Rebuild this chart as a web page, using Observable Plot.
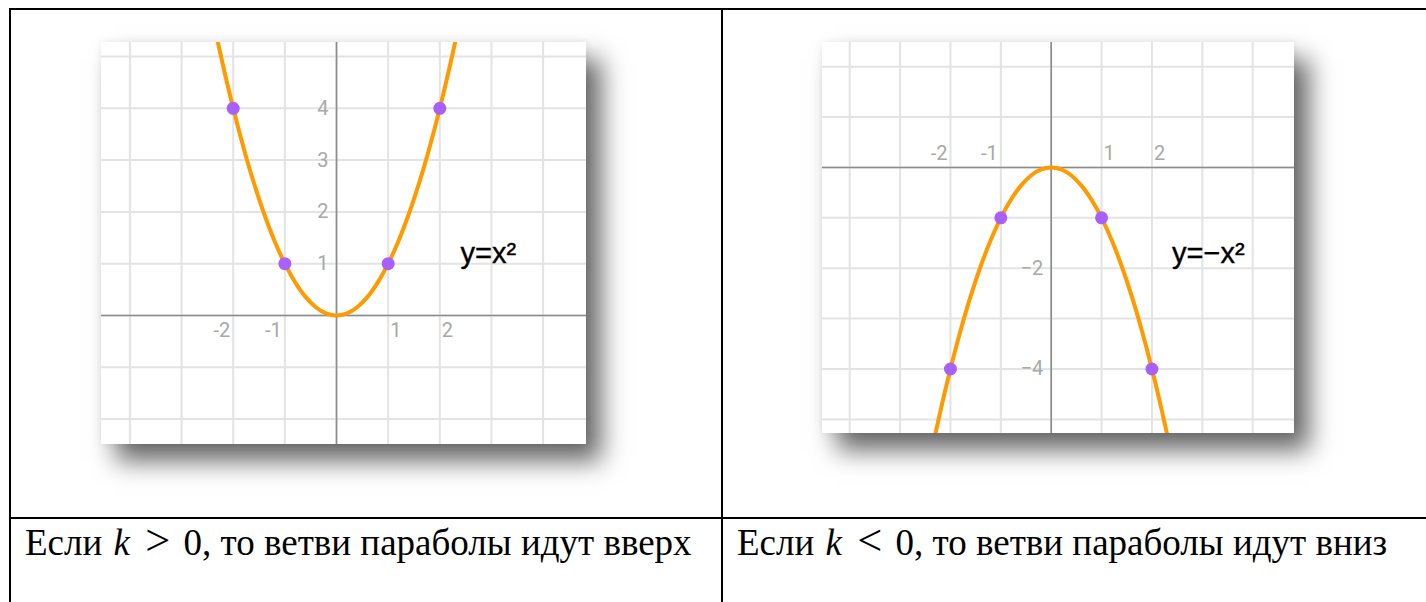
<!DOCTYPE html>
<html>
<head>
<meta charset="utf-8">
<script src="https://cdn.jsdelivr.net/npm/d3@7"></script>
<script src="https://cdn.jsdelivr.net/npm/@observablehq/plot@0.6"></script>
<style>
  html, body { margin: 0; padding: 0; background: #fff; width: 1426px; height: 602px; overflow: hidden; }
  .line { position: absolute; background: #000; }
  .chart { position: absolute; }
  .chart svg { display: block; box-shadow: 15px 17px 24px rgba(0,0,0,0.6), 0 0 8px rgba(0,0,0,0.07); }
  .cap { position: absolute; font-family: "Liberation Serif", "Times New Roman", serif; font-size: 37px; line-height: 37px; color: #000; white-space: nowrap; }
  .cap i { font-style: italic; margin-left: 2px; margin-right: 2px; }
  .cap .rel { display: inline-block; font-size: 1.2em; margin: 0 4px; line-height: 37px; }
</style>
</head>
<body>
<div class="line" style="left:9px; top:8px; width:1417px; height:2px;"></div>
<div class="line" style="left:9px; top:8px; width:2px; height:594px;"></div>
<div class="line" style="left:721px; top:8px; width:2px; height:594px;"></div>
<div class="line" style="left:9px; top:517px; width:1417px; height:2px;"></div>
<div id="left" class="chart" style="left:101px; top:42px;"></div>
<div id="right" class="chart" style="left:822px; top:42px;"></div>
<div class="cap" style="left:25px; top:522px;">Если <i>k</i> <span class="rel">&gt;</span> 0, то ветви параболы идут вверх</div>
<div class="cap" style="left:737px; top:522px;">Если <i>k</i> <span class="rel">&lt;</span> 0, то ветви параболы идут вниз</div>
<script>
// grid positions
const gridX = [-4, -3, -2, -1, 0, 1, 2, 3, 4];
const gridYUp = [-2, -1, 0, 1, 2, 3, 4, 5];
const gridYDown = [-5, -4, -3, -2, -1, 0, 1, 2];

// curve samples
const curveX = [-2.6, -2.4, -2.2, -2, -1.8, -1.6, -1.4, -1.2, -1, -0.8, -0.6, -0.4, -0.2, 0, 0.2, 0.4, 0.6, 0.8, 1, 1.2, 1.4, 1.6, 1.8, 2, 2.2, 2.4, 2.6];
const curveUpY = [6.76, 5.76, 4.84, 4, 3.24, 2.56, 1.96, 1.44, 1, 0.64, 0.36, 0.16, 0.04, 0, 0.04, 0.16, 0.36, 0.64, 1, 1.44, 1.96, 2.56, 3.24, 4, 4.84, 5.76, 6.76];
const curveDownY = [-6.76, -5.76, -4.84, -4, -3.24, -2.56, -1.96, -1.44, -1, -0.64, -0.36, -0.16, -0.04, 0, -0.04, -0.16, -0.36, -0.64, -1, -1.44, -1.96, -2.56, -3.24, -4, -4.84, -5.76, -6.76];

// marked points
const pointX = [-2, -1, 1, 2];
const pointUpY = [4, 1, 1, 4];
const pointDownY = [-4, -1, -1, -4];

// tick labels
const xTickNeg = [-2, -1];
const xTickNegLabels = ["-2", "-1"];
const xTickPos = [1, 2];
const xTickPosLabels = ["1", "2"];
const yTickUp = [1, 2, 3, 4];
const yTickUpLabels = ["1", "2", "3", "4"];
const yTickDown = [-2, -4];
const yTickDownLabels = ["−2", "−4"];

const formulaUp = ["y=x²"];
const formulaDown = ["y=−x²"];

const ORANGE = "#ff9a00";
const PURPLE = "#a960f8";
const GRID = "#e3e3e3";
const AXIS = "#8c8c8c";
const LABEL = "#a8a8a8";
const tickFont = "Roboto, 'Noto Sans', sans-serif";

function make({width, height, xDomain, yDomain, gridY, curveY, pointY, yTicks, yLabels, xDy, formula, formulaY}) {
  const curve = curveX.map((x, i) => ({x, y: curveY[i]}));
  const pts = pointX.map((x, i) => ({x, y: pointY[i]}));
  return Plot.plot({
    width, height,
    margin: 0,
    x: {domain: xDomain, axis: null},
    y: {domain: yDomain, axis: null},
    style: {background: "#fff", overflow: "hidden"},
    marks: [
      Plot.ruleX(gridX, {stroke: GRID, strokeWidth: 2}),
      Plot.ruleY(gridY, {stroke: GRID, strokeWidth: 2}),
      Plot.ruleX([0], {stroke: AXIS, strokeWidth: 1.6}),
      Plot.ruleY([0], {stroke: AXIS, strokeWidth: 1.6}),
      Plot.text(xTickNegLabels, {x: (d, i) => xTickNeg[i], y: 0, text: d => d, textAnchor: "end", lineAnchor: "middle", dx: -3, dy: xDy, fill: LABEL, fontSize: 20, fontFamily: tickFont}),
      Plot.text(xTickPosLabels, {x: (d, i) => xTickPos[i], y: 0, text: d => d, textAnchor: "start", lineAnchor: "middle", dx: 2, dy: xDy, fill: LABEL, fontSize: 20, fontFamily: tickFont}),
      Plot.text(yLabels, {x: 0, y: (d, i) => yTicks[i], text: d => d, textAnchor: "end", lineAnchor: "middle", dx: -8, fill: LABEL, fontSize: 20, fontFamily: tickFont}),
      Plot.line(curve, {x: "x", y: "y", stroke: ORANGE, strokeWidth: 4, curve: "catmull-rom", clip: true}),
      Plot.dot(pts, {x: "x", y: "y", r: 6.5, fill: PURPLE, stroke: "none"}),
      Plot.text(formula, {x: 2.4, y: formulaY, text: d => d, textAnchor: "start", lineAnchor: "middle", fill: "#000", fontSize: 29, fontFamily: "'Liberation Sans', Arial, sans-serif", stroke: "#000", strokeWidth: 0.4})
    ]
  });
}

document.getElementById("left").appendChild(make({
  width: 485, height: 402,
  xDomain: [-4.55, 4.84], yDomain: [-2.49, 5.27],
  gridY: gridYUp, curveY: curveUpY, pointY: pointUpY,
  yTicks: yTickUp, yLabels: yTickUpLabels, xDy: 15,
  formula: formulaUp, formulaY: 1.2
}));

document.getElementById("right").appendChild(make({
  width: 472, height: 391,
  xDomain: [-4.54, 4.83], yDomain: [-5.28, 2.48],
  gridY: gridYDown, curveY: curveDownY, pointY: pointDownY,
  yTicks: yTickDown, yLabels: yTickDownLabels, xDy: -14,
  formula: formulaDown, formulaY: -1.72
}));
</script>
</body>
</html>
